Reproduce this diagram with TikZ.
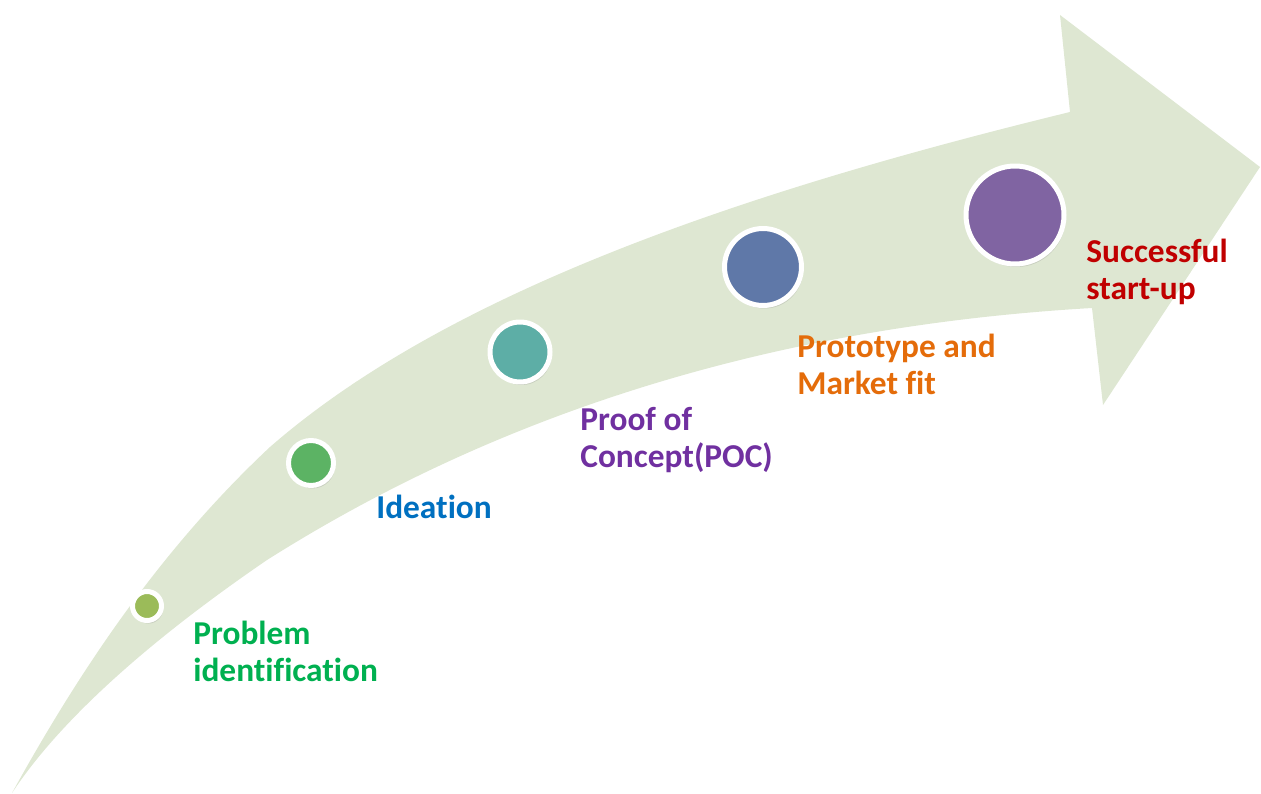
\documentclass[tikz,border=0pt]{standalone}
\usepackage{fontspec}
\setmainfont{Carlito}[Ligatures=NoCommon]
\usetikzlibrary{shadows}

\definecolor{arrowfill}{RGB}{222,231,210}
\definecolor{dotA}{RGB}{155,187,89}
\definecolor{dotB}{RGB}{92,179,100}
\definecolor{dotC}{RGB}{93,174,166}
\definecolor{dotD}{RGB}{95,120,168}
\definecolor{dotE}{RGB}{128,100,162}
\definecolor{txtA}{RGB}{0,176,80}
\definecolor{txtB}{RGB}{0,112,192}
\definecolor{txtC}{RGB}{112,48,160}
\definecolor{txtD}{RGB}{228,108,10}
\definecolor{txtE}{RGB}{192,0,0}

\begin{document}
\begin{tikzpicture}[x=0.02cm, y=-0.02cm]
	\tikzstyle{stage}=[circle, draw=white, line width=0.1cm, inner sep=0pt, drop shadow={opacity=0.25, shadow xshift=0.3mm, shadow yshift=-0.6mm}]
	\tikzstyle{stage_txt}=[anchor=base west, align=left, inner sep=0pt, font=\fontsize{19}{20.5}\selectfont\bfseries]

	\useasboundingbox (0, 0) rectangle (1261, 794);

	% big arrow
	\fill[arrowfill] (12, 793) .. controls (80, 670) and (160, 550) .. (270, 447)
		.. controls (450, 290) and (750, 190) .. (1070, 112)
		-- (1060, 15) -- (1260, 167) -- (1103, 405) -- (1092, 308)
		.. controls (800, 325) and (520, 400) .. (267, 560)
		.. controls (150, 640) and (60, 720) .. (12, 793) -- cycle;

	% stages
	\node[stage, fill=dotA, minimum size=0.58cm](Problem) at (147, 606) {};
	\node[stage, fill=dotB, minimum size=0.9cm](Ideation) at (311, 463) {};
	\node[stage, fill=dotC, minimum size=1.2cm](POC) at (520, 352) {};
	\node[stage, fill=dotD, minimum size=1.54cm](Prototype) at (763, 267) {};
	\node[stage, fill=dotE, minimum size=1.96cm](Startup) at (1015, 215) {};

	% texts (anchored at the last line)
	\node[stage_txt, text=txtA](Problem_txt) at (193, 681) {Problem\\identification};
	\node[stage_txt, text=txtB](Ideation_txt) at (376, 518) {Ideation};
	\node[stage_txt, text=txtC](POC_txt) at (580, 467) {Proof of\\Concept(POC)};
	\node[stage_txt, text=txtD](Prototype_txt) at (797, 394) {Prototype and\\Market fit};
	\node[stage_txt, text=txtE](Startup_txt) at (1086, 299) {Successful\\start-up};
\end{tikzpicture}
\end{document}
